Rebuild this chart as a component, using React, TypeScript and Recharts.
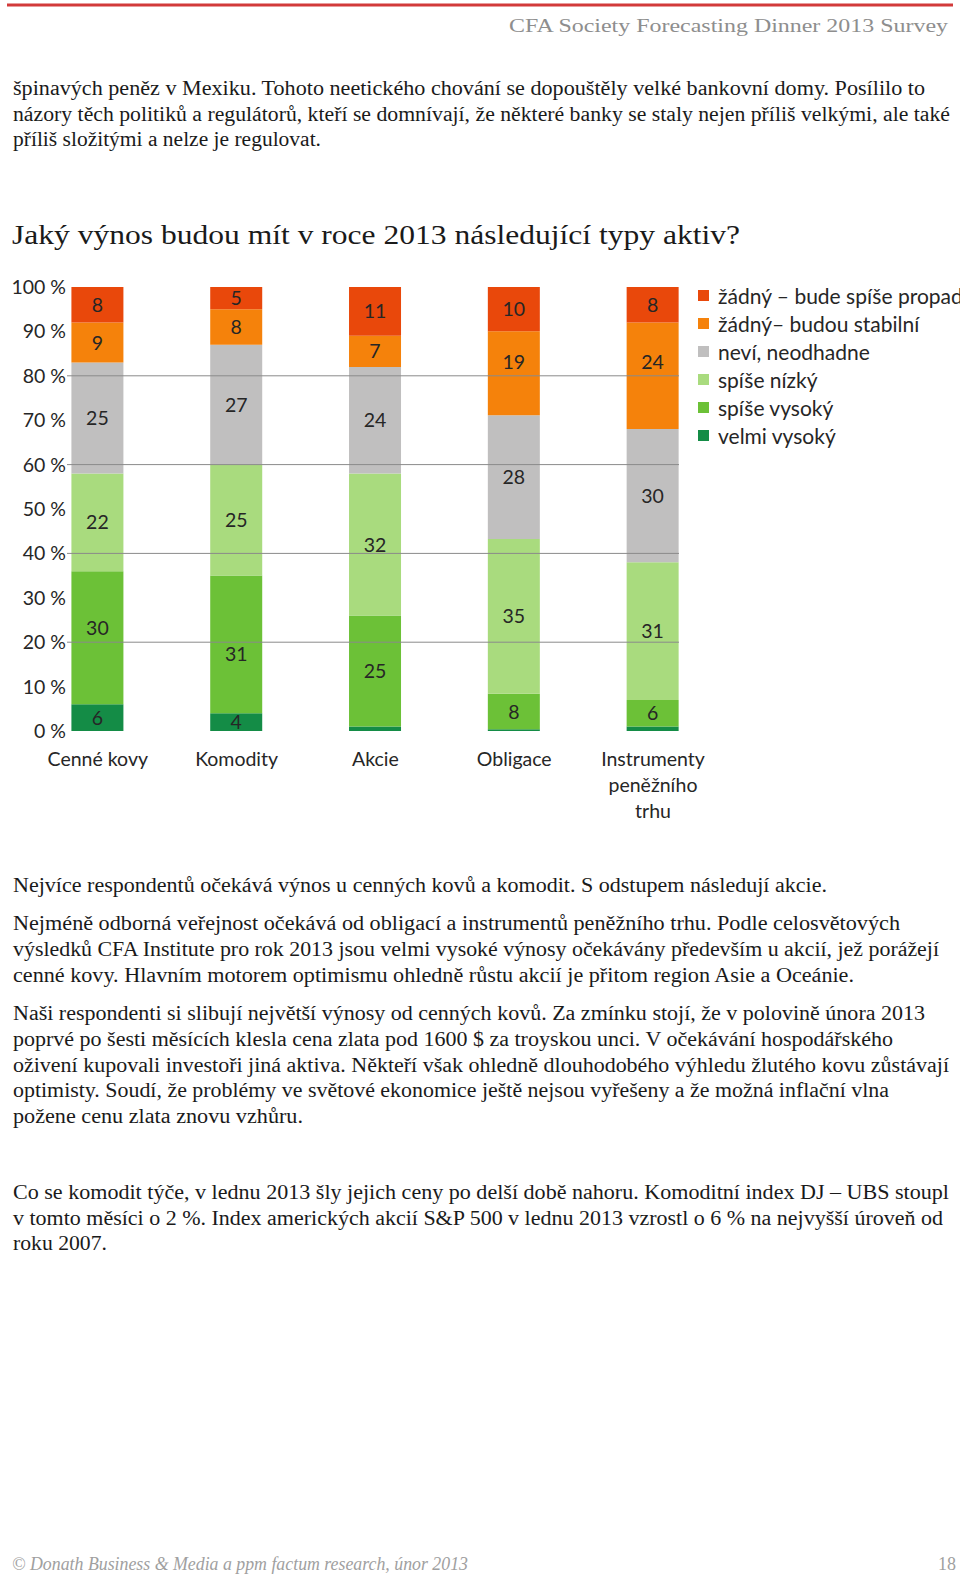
import React from "react";
import {
  BarChart,
  Bar,
  XAxis,
  YAxis,
  ReferenceLine,
  LabelList,
  Legend,
  Text,
} from "recharts";

// categories + stacked shares (in %)
const categories = [
  "Cenné kovy",
  "Komodity",
  "Akcie",
  "Obligace",
  "Instrumenty peněžního trhu",
];
const velmiVysoky = [6, 4, 1, 0.4, 1];
const spiseVysoky = [30, 31, 25, 8, 6];
const spiseNizky = [22, 25, 32, 35, 31];
const neviNeodhadne = [25, 27, 24, 28, 30];
const zadnyStabilni = [9, 8, 7, 19, 24];
const zadnyPropad = [8, 5, 11, 10, 8];

const yTicks = [0, 10, 20, 30, 40, 50, 60, 70, 80, 90, 100];
const gridValues = [20, 40, 60, 80];

const series = [
  { key: "velmi", name: "velmi vysoký", values: velmiVysoky, color: "#148C46" },
  { key: "vysoky", name: "spíše vysoký", values: spiseVysoky, color: "#6CC137" },
  { key: "nizky", name: "spíše nízký", values: spiseNizky, color: "#A9DB7E" },
  { key: "nevi", name: "neví, neodhadne", values: neviNeodhadne, color: "#C0BFBF" },
  { key: "stabilni", name: "žádný– budou stabilní", values: zadnyStabilni, color: "#F5820B" },
  { key: "propad", name: "žádný – bude spíše propad", values: zadnyPropad, color: "#E9480B" },
];

const data = categories.map((name, i) => {
  const row: Record<string, any> = { idx: i, name };
  series.forEach((s) => (row[s.key] = s.values[i]));
  return row;
});

const FONT = "Lato, 'Noto Sans', sans-serif";
const SERIF = "'Liberation Serif', 'DejaVu Serif', serif";
const INK = "#262626";
const PLOT_TOP = 17;
const PLOT_H = 444;

// page text lines: baseline y and measured line width
const header = { text: "CFA Society Forecasting Dinner 2013 Survey", y: 32, w: 439 };
const title = { text: "Jaký výnos budou mít v roce 2013 následující typy aktiv?", y: 244, w: 728 };
const bodyLines = [
  { text: "špinavých peněz v Mexiku. Tohoto neetického chování se dopouštěly velké bankovní domy. Posílilo to", y: 95, w: 912 },
  { text: "názory těch politiků a regulátorů, kteří se domnívají, že některé banky se staly nejen příliš velkými, ale také", y: 120.5, w: 937 },
  { text: "příliš složitými a nelze je regulovat.", y: 146, w: 308 },
  { text: "Nejvíce respondentů očekává výnos u cenných kovů a komodit. S odstupem následují akcie.", y: 892, w: 814 },
  { text: "Nejméně odborná veřejnost očekává od obligací a instrumentů peněžního trhu. Podle celosvětových", y: 930, w: 887 },
  { text: "výsledků CFA Institute pro rok 2013 jsou velmi vysoké výnosy očekávány především u akcií, jež porážejí", y: 956, w: 926 },
  { text: "cenné kovy. Hlavním motorem optimismu ohledně růstu akcií je přitom region Asie a Oceánie.", y: 981.5, w: 841 },
  { text: "Naši respondenti si slibují největší výnosy od cenných kovů. Za zmínku stojí, že v polovině února 2013", y: 1019.5, w: 912 },
  { text: "poprvé po šesti měsících klesla cena zlata pod 1600 $ za troyskou unci. V očekávání hospodářského", y: 1045.5, w: 880 },
  { text: "oživení kupovali investoři jiná aktiva. Někteří však ohledně dlouhodobého výhledu žlutého kovu zůstávají", y: 1071.5, w: 936 },
  { text: "optimisty. Soudí, že problémy ve světové ekonomice ještě nejsou vyřešeny a že možná inflační vlna", y: 1096.5, w: 876 },
  { text: "požene cenu zlata znovu vzhůru.", y: 1122.5, w: 290 },
  { text: "Co se komodit týče, v lednu 2013 šly jejich ceny po delší době nahoru. Komoditní index DJ – UBS stoupl", y: 1198.5, w: 936 },
  { text: "v tomto měsíci o 2 %. Index amerických akcií S&P 500 v lednu 2013 vzrostl o 6 % na nejvyšší úroveň od", y: 1224.5, w: 930 },
  { text: "roku 2007.", y: 1249.5, w: 94 },
];
const footer = { text: "© Donath Business & Media a ppm factum research, únor 2013", y: 1570, w: 456 };

const PageText = () => (
  <svg width={960} height={1579} style={{ position: "absolute", left: 0, top: 0 }}>
    <line x1={7} x2={953} y1={5} y2={5} stroke="#D23A3A" strokeWidth={3} />
    <text
      x={948}
      y={header.y}
      textAnchor="end"
      textLength={header.w}
      lengthAdjust="spacingAndGlyphs"
      fontFamily={SERIF}
      fontSize={19}
      fill="#8E8E8E"
    >
      {header.text}
    </text>
    {bodyLines.map((l, i) => (
      <text
        key={i}
        x={13}
        y={l.y}
        textLength={l.w}
        lengthAdjust="spacingAndGlyphs"
        fontFamily={SERIF}
        fontSize={20}
        fill="#1A1A1A"
      >
        {l.text}
      </text>
    ))}
    <text
      x={12}
      y={title.y}
      textLength={title.w}
      lengthAdjust="spacingAndGlyphs"
      fontFamily={SERIF}
      fontSize={27}
      fill="#1A1A1A"
    >
      {title.text}
    </text>
    <text
      x={12}
      y={footer.y}
      textLength={footer.w}
      lengthAdjust="spacingAndGlyphs"
      fontFamily={SERIF}
      fontStyle="italic"
      fontSize={18}
      fill="#A0A0A0"
    >
      {footer.text}
    </text>
    <text x={956} y={footer.y} textAnchor="end" fontFamily={SERIF} fontSize={18} fill="#A0A0A0">
      18
    </text>
  </svg>
);

// category tick, wraps the long label onto three lines
const CategoryTick = (props: any) => {
  const { x, y, payload } = props;
  return (
    <Text
      x={x}
      y={y}
      width={100}
      textAnchor="middle"
      verticalAnchor="start"
      lineHeight={26}
      style={{ fontFamily: FONT, fontSize: 19.5 }}
      fill={INK}
    >
      {categories[payload.value]}
    </Text>
  );
};

// segment labels, nudged off the gridlines like Excel does
const renderLabel = (props: any, values: number[]) => {
  const vb = props.viewBox || props;
  const { x, y, width, height } = vb;
  const v = typeof props.value === "number" ? props.value : values[props.index];
  if (!(v >= 2)) return null;
  let cy = y + height / 2;
  gridValues.forEach((g) => {
    const gy = PLOT_TOP + (1 - g / 100) * PLOT_H;
    if (Math.abs(cy - gy) < 8) cy = cy <= gy + 1 ? gy - 14 : gy + 12;
  });
  return (
    <text
      x={x + width / 2}
      y={cy}
      dy="0.36em"
      textAnchor="middle"
      fontFamily={FONT}
      fontSize={19.5}
      fill={INK}
    >
      {v}
    </text>
  );
};

// legend lists the series top-down, same order as the stack
const renderLegend = () => {
  const items = [...series].reverse();
  return (
    <div style={{ fontFamily: FONT, fontSize: 21, color: INK }}>
      {items.map((it) => (
        <div
          key={it.key}
          style={{ height: 28.1, display: "flex", alignItems: "center", whiteSpace: "nowrap" }}
        >
          <span
            style={{
              display: "inline-block",
              width: 11,
              height: 11,
              background: it.color,
              marginRight: 9,
              flexShrink: 0,
            }}
          />
          {it.name}
        </div>
      ))}
    </div>
  );
};

export default function App() {
  return (
    <div
      style={{
        position: "absolute",
        left: 0,
        top: 0,
        width: 960,
        height: 1579,
        background: "#fff",
        overflow: "hidden",
      }}
    >
      <PageText />
      <div style={{ position: "absolute", left: 0, top: 270 }}>
        <BarChart
          width={960}
          height={560}
          data={data}
          stackOffset="expand"
          margin={{ top: PLOT_TOP, right: 281, bottom: 0, left: 7 }}
        >
          <XAxis
            type="number"
            dataKey="idx"
            domain={[-0.222, 4.187]}
            ticks={[0, 1, 2, 3, 4]}
            interval={0}
            axisLine={false}
            tickLine={false}
            tickSize={0}
            tickMargin={21}
            height={99}
            tick={CategoryTick}
          />
          <YAxis
            type="number"
            domain={[0, 1]}
            ticks={yTicks.map((v) => v / 100)}
            interval={0}
            tickFormatter={(v: number) => `${Math.round(v * 100)} %`}
            axisLine={false}
            tickLine={false}
            tickSize={0}
            tickMargin={1}
            width={60}
            tick={{ fill: INK, fontSize: 19.5, fontFamily: FONT }}
          />
          {series.map((s) => (
            <Bar
              key={s.key}
              dataKey={s.key}
              name={s.name}
              stackId="a"
              fill={s.color}
              barSize={52}
              isAnimationActive={false}
            >
              <LabelList dataKey={s.key} content={(p: any) => renderLabel(p, s.values)} />
            </Bar>
          ))}
          {gridValues.map((g) => (
            <ReferenceLine key={g} y={g / 100} stroke="#8A8A8A" strokeWidth={1} />
          ))}
          <Legend
            layout="vertical"
            align="center"
            verticalAlign="middle"
            wrapperStyle={{ left: 698, top: 11, width: 262 }}
            content={renderLegend}
          />
        </BarChart>
      </div>
    </div>
  );
}
